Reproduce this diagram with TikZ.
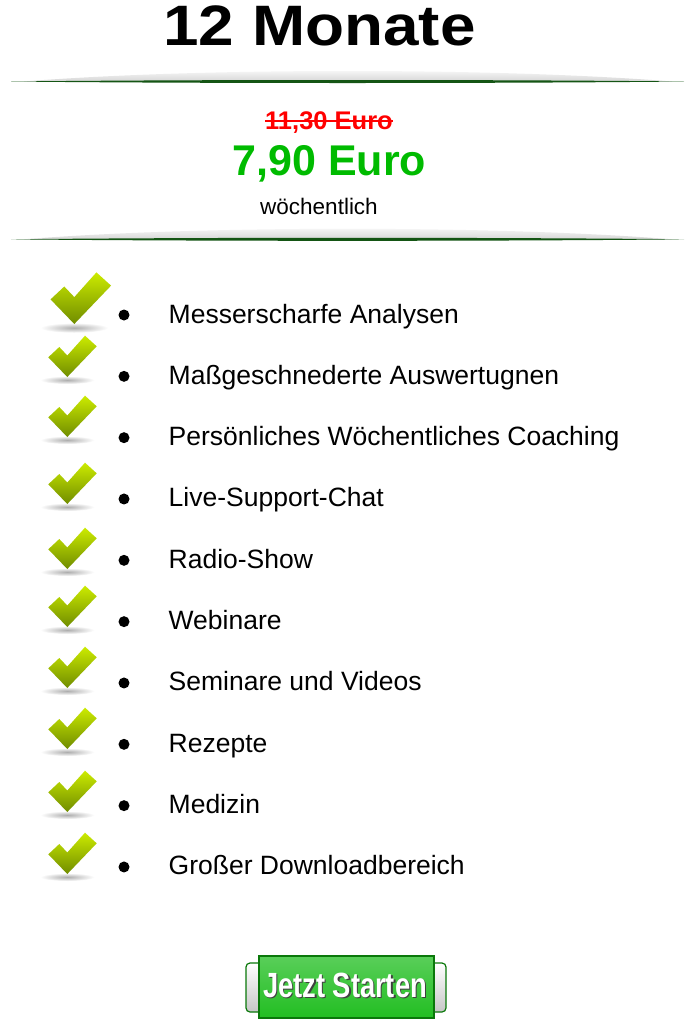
\documentclass[tikz,border=0pt]{standalone}
\usepackage{fontspec}
\setmainfont{Liberation Sans}
\usepackage{tikz}
\usetikzlibrary{positioning,calc}
\definecolor{tickhi}{RGB}{204,235,0}
\definecolor{ticklo}{RGB}{112,140,0}
\definecolor{rulegreen}{RGB}{20,85,20}
\definecolor{pricegreen}{RGB}{0,187,0}
\definecolor{btngreen}{RGB}{34,190,34}
\definecolor{btndark}{RGB}{10,120,10}

\begin{document}
\begin{tikzpicture}[x=1pt, y=-1pt,
    heading/.style={anchor=base, inner sep=0, font=\fontsize{57}{60}\selectfont\bfseries},
    oldprice/.style={anchor=base, inner sep=0, text=red, font=\fontsize{25.5}{28}\selectfont\bfseries},
    newprice/.style={anchor=base, inner sep=0, text=pricegreen, font=\fontsize{43}{46}\selectfont\bfseries},
    period/.style={anchor=base, inner sep=0, font=\fontsize{22.5}{24}\selectfont},
    item/.style={anchor=base west, inner sep=0, font=\fontsize{26.5}{30}\selectfont},
    dot/.style={circle, fill=black, inner sep=0, minimum size=11pt},
    btnend/.style={draw=btndark, line width=1.2, top color=white, bottom color=black!22, rounded corners=4},
    button/.style={rectangle, draw=btndark, line width=1.2, top color=btngreen!75!white, bottom color=btngreen, minimum width=175pt, minimum height=62pt},
    btntext/.style={anchor=base, inner sep=0, text=white, font=\fontsize{35}{38}\selectfont\bfseries},
    tick/.pic={
        \shade[inner color=black!32, outer color=white] (0,3) ellipse (27 and 4);
        \shade[top color=tickhi, bottom color=ticklo] (0,0) -- (-19,-19.7) -- (-8,-30) -- (0,-21.5) -- (17.7,-41.3) -- (29.4,-30.7) -- cycle;
    }
]
    \fill[white] (0,0) rectangle (693,1026);
    \useasboundingbox (0,0) rectangle (693,1026);

    % heading and price box
    \node[heading] (title) at (319.5,45) {\scalebox{1.12}[1]{12 Monate}};
    \foreach \ry in {81.5,239.3} {
        \shade[top color=white, bottom color=black!16] (24,\ry) .. controls (200,\ry-14) and (495,\ry-14) .. (672,\ry) -- cycle;
        \fill[rulegreen] (11,\ry) .. controls (200,\ry-2) and (495,\ry-2) .. (684,\ry) .. controls (495,\ry+2) and (200,\ry+2) .. (11,\ry) -- cycle;
    }
    \node[oldprice] (old) at (329,129) {11,30 Euro};
    \draw[red, line width=1.8] ([yshift=8pt]old.base west) -- ([yshift=8pt]old.base east);
    \node[newprice] (new) at (329.5,175) {7,90 Euro};
    \node[period] (period) at (319,214) {wöchentlich};

    % feature list
    \pic[scale=1.25] at (74.3,324) {tick};
    \foreach \b in {377,437,504,569,627,688,749,812,874}
        \pic at (67.3,\b) {tick};
    \foreach \txt [count=\i] in {Messerscharfe Analysen, Maßgeschnederte Auswertugnen,
            Persönliches Wöchentliches Coaching, Live-Support-Chat, Radio-Show, Webinare,
            Seminare und Videos, Rezepte, Medizin, Großer Downloadbereich} {
        \pgfmathsetmacro{\y}{323+(\i-1)*61.33}
        \node[dot] (dot\i) at (124,\y-8) {};
        \node[item] (item\i) at (168.5,\y) {\txt};
    }

    % button
    \path[btnend] (246,963) rectangle (265,1012);
    \path[btnend] (428,963) rectangle (446,1012);
    \node[button] (start) at (346.5,987) {};
    \node[btntext, text=black!75] (startshadow) at (346.5,998.5) {\scalebox{0.78}[1]{Jetzt Starten}};
    \node[btntext] (starttext) at (345,997) {\scalebox{0.78}[1]{Jetzt Starten}};
\end{tikzpicture}
\end{document}
